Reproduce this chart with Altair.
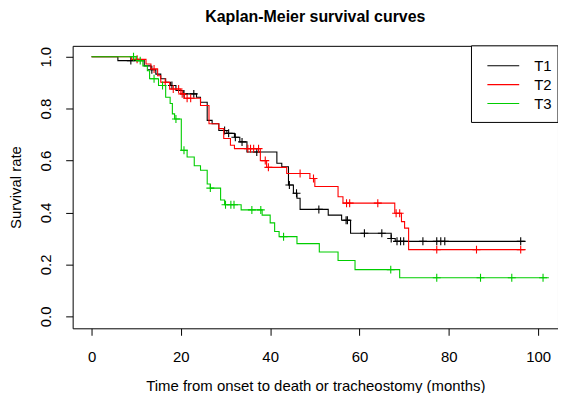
import altair as alt
import pandas as pd

FONT = "Liberation Sans"

series = ["T1", "T2", "T3"]
colors = ["#000000", "#FF0000", "#00CD00"]
chart_title = "Kaplan-Meier survival curves"

# Kaplan-Meier step points (time in months, survival rate)
t1_time = [0, 5.9, 11.8, 13.3, 14.4, 15.5, 16.6, 17.7, 18.9, 20.5, 23.5, 24.4, 25.9, 27.0, 28.5,
           30.3, 32.0, 33.2, 34.8, 41.5, 42.6, 44.1, 45.2, 46.0, 46.7, 53.0, 56.0, 58.0, 67.1, 68.0]
t1_surv = [1.0, 0.985, 0.965, 0.95, 0.933, 0.915, 0.902, 0.889, 0.87, 0.857, 0.844, 0.825, 0.755, 0.742, 0.716,
           0.705, 0.69, 0.672, 0.633, 0.59, 0.576, 0.506, 0.474, 0.455, 0.412, 0.39, 0.37, 0.32, 0.30, 0.289]
t1_end = 97.2
t1_censor = [8.8, 13.5, 18.0, 20.7, 22.9, 29.8, 30.7, 32.2, 33.7, 37.0, 44.3, 45.9, 50.9, 57.0, 57.3,
             61.1, 65.0, 67.1, 68.4, 69.2, 69.9, 74.2, 77.3, 78.2, 79.1, 96.1]

t2_time = [0, 9.0, 12.2, 13.3, 14.8, 15.5, 17.5, 20.0, 20.8, 24.4, 26.3, 28.5, 29.6, 31.1, 32.0,
           37.8, 39.2, 43.7, 48.9, 50.0, 55.2, 56.3, 67.9, 69.4, 70.1, 71.0]
t2_surv = [1.0, 0.99, 0.972, 0.953, 0.927, 0.902, 0.876, 0.857, 0.84, 0.812, 0.742, 0.723, 0.685, 0.659, 0.646,
           0.6, 0.574, 0.55, 0.531, 0.5, 0.461, 0.436, 0.397, 0.365, 0.34, 0.257]
t2_end = 97.2
t2_censor = [10.2, 14.0, 16.5, 18.3, 19.5, 20.3, 21.4, 22.2, 35.0, 35.6, 36.3, 37.4, 38.9, 39.6,
             46.7, 49.7, 57.1, 57.8, 64.1, 68.2, 69.0, 77.3, 86.2, 96.1]

t3_time = [0, 10.0, 11.5, 12.5, 13.0, 15.0, 16.6, 17.6, 18.1, 18.6, 20.1, 21.4, 23.0, 24.4, 25.9,
           26.6, 28.9, 29.8, 33.5, 38.2, 40.0, 41.0, 42.0, 46.0, 51.0, 55.2, 59.0, 69.0]
t3_surv = [1.0, 0.985, 0.965, 0.946, 0.915, 0.889, 0.844, 0.82, 0.78, 0.76, 0.64, 0.614, 0.58, 0.563, 0.51,
           0.494, 0.448, 0.43, 0.41, 0.39, 0.36, 0.327, 0.307, 0.28, 0.248, 0.215, 0.18, 0.149]
t3_end = 102.4
t3_censor = [9.4, 10.9, 14.0, 15.9, 18.9, 20.7, 26.6, 30.0, 31.2, 31.9, 35.9, 37.9, 43.0,
             67.0, 77.3, 87.1, 94.1, 101.1]

x_ticks = [0, 20, 40, 60, 80, 100]
y_ticks = [0.0, 0.2, 0.4, 0.6, 0.8, 1.0]

groups = [
    (t1_time, t1_surv, t1_end, t1_censor),
    (t2_time, t2_surv, t2_end, t2_censor),
    (t3_time, t3_surv, t3_end, t3_censor),
]


def surv_at(times, survs, t):
    s = survs[0]
    for tt, ss in zip(times, survs):
        if tt <= t:
            s = ss
    return s


x_scale = alt.Scale(domain=[-4.23, 104.45], nice=False, zero=False)
y_scale = alt.Scale(domain=[-0.046, 1.042], nice=False, zero=False)

x_axis = alt.Axis(values=x_ticks, title="Time from onset to death or tracheostomy (months)",
                  grid=False, domain=False, tickSize=7, tickColor="black", tickWidth=1,
                  labelFontSize=15, labelFont=FONT, labelColor="black", labelPadding=14,
                  titleFontSize=15, titleFont=FONT, titleFontWeight="normal", titleColor="black",
                  titleX=244, titleY=58, titleAlign="center", titleBaseline="middle")
y_axis = alt.Axis(values=y_ticks, format=".1f", title="Survival rate",
                  grid=False, domain=False, tickSize=7, tickColor="black", tickWidth=1,
                  labelFontSize=15, labelFont=FONT, labelColor="black", labelAngle=270,
                  labelAlign="center", labelBaseline="middle", labelPadding=20,
                  titleFontSize=15, titleFont=FONT, titleFontWeight="normal", titleColor="black",
                  titleAngle=270, titleX=-57, titleY=142, titleAlign="center", titleBaseline="middle")

enc_x = alt.X("time:Q", scale=x_scale, axis=x_axis)
enc_y = alt.Y("surv:Q", scale=y_scale, axis=y_axis)

layers = []
for i, (name, col, (times, survs, end, cens)) in enumerate(zip(series, colors, groups)):
    line_df = pd.DataFrame({"time": list(times) + [end], "surv": list(survs) + [survs[-1]]})
    cens_df = pd.DataFrame({"time": cens, "surv": [surv_at(times, survs, c) for c in cens]})
    layers.append(alt.Chart(line_df).mark_line(interpolate="step-after", color=col, strokeWidth=1.1)
                  .encode(x=enc_x, y=enc_y))
    layers.append(alt.Chart(cens_df).mark_point(shape="M-1,0L1,0M0,-1L0,1", filled=False, size=64,
                                                 color=col, strokeWidth=1.1, opacity=1)
                  .encode(x=enc_x, y=enc_y))

one = pd.DataFrame({"k": [0]})
layers.append(alt.Chart(one).mark_rect(fill="white", stroke="black", strokeWidth=1)
              .encode(x=alt.value(401), x2=alt.value(488), y=alt.value(0), y2=alt.value(77)))
for i, (name, col) in enumerate(zip(series, colors)):
    ypos = 20 + 19 * i
    layers.append(alt.Chart(one).mark_rule(color=col, strokeWidth=1.1)
                  .encode(x=alt.value(417), x2=alt.value(449), y=alt.value(ypos)))
    layers.append(alt.Chart(one).mark_text(align="left", baseline="middle", fontSize=15, font=FONT,
                                           color="black")
                  .encode(x=alt.value(464), y=alt.value(ypos), text=alt.value(name)))

# chart title drawn as a text mark above the plot area
layers.append(alt.Chart(one).mark_text(align="center", baseline="middle", fontSize=16, font=FONT,
                                       fontWeight="bold", color="black")
              .encode(x=alt.value(244), y=alt.value(-29), text=alt.value(chart_title)))

chart = alt.layer(*layers).properties(
    width=488, height=284,
    background="white",
    autosize="none",
    padding={"left": 65, "top": 37, "right": 0, "bottom": 64},
).configure_view(stroke="black", strokeWidth=1)

chart.save("out.html", embed_options={"renderer": "svg", "actions": False})
